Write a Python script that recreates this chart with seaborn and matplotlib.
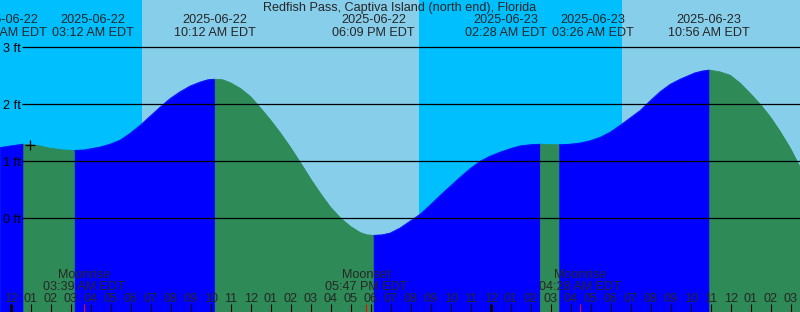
import matplotlib
matplotlib.use("Agg")
import matplotlib.pyplot as plt
import seaborn as sns
import pandas as pd

# ---------------- data (hours since 2025-06-22 00:00 EDT, feet) ----------------
tide_hours = [-0.53, 0.00, 0.63,
              1.30, 1.97, 2.60, 3.20,
              3.70, 4.47, 4.97, 5.47, 5.97, 6.47, 6.97, 7.47, 7.97, 8.47, 8.97,
              9.47, 9.85, 10.20,
              10.60, 10.97, 11.47, 11.97, 12.47, 12.97, 13.47, 13.97, 14.47,
              14.97, 15.47, 15.97, 16.47, 16.97, 17.47, 17.80, 18.15,
              18.57, 18.97, 19.47, 19.97, 20.47, 20.97, 21.47, 21.97, 22.47,
              22.97, 23.47, 23.97, 24.47, 24.97, 25.47, 25.97, 26.47,
              26.95, 27.43,
              27.97, 28.47, 28.97, 29.47, 29.97, 30.47, 30.97, 31.47, 31.97,
              32.47, 32.97, 33.47, 33.87, 34.20, 34.60, 34.93,
              35.45, 35.97, 36.47, 36.97, 37.47, 37.97, 38.47, 38.97, 39.22,
              39.47]
tide_feet = [1.24, 1.27, 1.30,
             1.28, 1.23, 1.20, 1.19,
             1.20, 1.25, 1.30, 1.37, 1.49, 1.63, 1.79, 1.95, 2.10, 2.22, 2.32,
             2.39, 2.43, 2.44,
             2.43, 2.38, 2.28, 2.14, 1.94, 1.73, 1.50, 1.25, 0.98,
             0.70, 0.44, 0.20, 0.01, -0.14, -0.25, -0.29, -0.30,
             -0.29, -0.26, -0.17, -0.05, 0.07, 0.23, 0.40, 0.56, 0.72,
             0.87, 1.00, 1.09, 1.16, 1.22, 1.27, 1.29, 1.30,
             1.295, 1.29,
             1.30, 1.32, 1.36, 1.42, 1.51, 1.63, 1.76, 1.89, 2.06,
             2.22, 2.35, 2.44, 2.50, 2.55, 2.585, 2.60,
             2.57, 2.51, 2.37, 2.19, 2.00, 1.78, 1.52, 1.23, 1.06,
             0.89]

event_hours = [0.63, 3.20, 10.20, 18.15, 26.47, 27.43, 34.93]
event_dates = ["2025-06-22", "2025-06-22", "2025-06-22", "2025-06-22",
               "2025-06-23", "2025-06-23", "2025-06-23"]
event_times = ["12:38 AM EDT", "03:12 AM EDT", "10:12 AM EDT", "06:09 PM EDT",
               "02:28 AM EDT", "03:26 AM EDT", "10:56 AM EDT"]

moon_hours = [3.65, 17.78, 28.47]
moon_names = ["Moonrise", "Moonset", "Moonrise"]
moon_times = ["03:39 AM EDT", "05:47 PM EDT", "04:28 AM EDT"]

night_spans = [(-1.0, 6.565), (20.415, 30.55)]
grid_feet = [3, 2, 1, 0]
now_hour, now_feet = 0.965, 1.286
title = "Redfish Pass, Captiva Island (north end), Florida"

# ---------------- styling ----------------
sns.set_style("white")
plt.rcParams["font.family"] = ["Liberation Sans", "DejaVu Sans"]
FS = 9.1
DAY = "#87CEEB"
NIGHT = "#00BFFF"
RISE = "#0000FF"
FALL = "#2E8B57"

W, H = 800, 312
X0, Y0 = -10.7 / 20, (218.3 - H) / 57.0
X1, Y1 = (W - 10.7) / 20, 218.3 / 57.0


def py(p):  # pixel row -> feet
    return (218.3 - p) / 57.0


def px(p):  # pixel column -> hours
    return (p - 10.7) / 20.0


fig = plt.figure(figsize=(W / 100, H / 100), dpi=100)
ax = fig.add_axes([0, 0, 1, 1])
ax.set_facecolor(DAY)
for s in ax.spines.values():
    s.set_visible(False)

for a, b in night_spans:
    ax.axvspan(a, b, color=NIGHT, lw=0, zorder=0)

# segments split at extrema (rising = blue, falling = green)
ext_idx = [0] + [tide_hours.index(h) for h in event_hours] + [len(tide_hours) - 1]
rows = []
palette = {}
for k in range(len(ext_idx) - 1):
    i, j = ext_idx[k], ext_idx[k + 1]
    xs = tide_hours[i:j + 1]
    ys = tide_feet[i:j + 1]
    col = RISE if ys[-1] > ys[0] else FALL
    palette[k] = col
    ax.fill_between(xs, ys, Y0 - 1, color=col, lw=0.6, edgecolor=col, zorder=1)
    for x, y in zip(xs, ys):
        rows.append({"hour": x, "feet": y, "seg": k})
df = pd.DataFrame(rows)
sns.lineplot(data=df, x="hour", y="feet", hue="seg", palette=palette,
             legend=False, lw=0.6, ax=ax, zorder=2, sort=True,
             estimator=None)
ax.set_xlabel("")
ax.set_ylabel("")
ax.set_xticks([])
ax.set_yticks([])
ax.set_xlim(X0, X1)
ax.set_ylim(Y0, Y1)

# grid lines and labels
for g in grid_feet:
    ax.hlines(g, px(21.5), X1 + 1, color="black", lw=0.9, zorder=3)
    ax.text(px(3), py(218.3 - 57 * g + 4.4), f"{g} ft", ha="left",
            va="baseline", fontsize=FS, color="black", zorder=4)

# now marker
ax.plot([now_hour], [now_feet], marker="+", color="black", ms=7, mew=0.9,
        zorder=5)

# title
ax.text(px(400), py(11.5), title, ha="center", va="baseline", fontsize=FS,
        zorder=6)

# event labels with simple collision separation
lab_w = 4.35
centers = list(event_hours)
for i in range(len(centers) - 1):
    if centers[i + 1] - centers[i] < lab_w:
        mid = (event_hours[i] + event_hours[i + 1]) / 2
        centers[i] = mid - lab_w / 2
        centers[i + 1] = mid + lab_w / 2
for c, d, t in zip(centers, event_dates, event_times):
    ax.text(c, py(23.3), d, ha="center", va="baseline", fontsize=FS, zorder=6)
    ax.text(c, py(36.0), t, ha="center", va="baseline", fontsize=FS, zorder=6)

# moon labels
for h, n, t in zip(moon_hours, moon_names, moon_times):
    ax.text(h, py(278.3), n, ha="center", va="baseline", fontsize=FS, zorder=6)
    ax.text(h, py(290.0), t, ha="center", va="baseline", fontsize=FS, zorder=6)
    ax.vlines(h, py(304), py(313), color="red", lw=0.8, zorder=5)

# hour ticks
for h in range(0, 40):
    lbl = f"{(h % 12) or 12:02d}"
    ax.text(h, py(301.7), lbl, ha="center", va="baseline", fontsize=FS,
            zorder=6)
    lw = 2.2 if h % 24 == 0 else 0.8
    ax.vlines(h, py(304), py(313), color="black", lw=lw, zorder=5)

fig.savefig("out.png", dpi=100)
